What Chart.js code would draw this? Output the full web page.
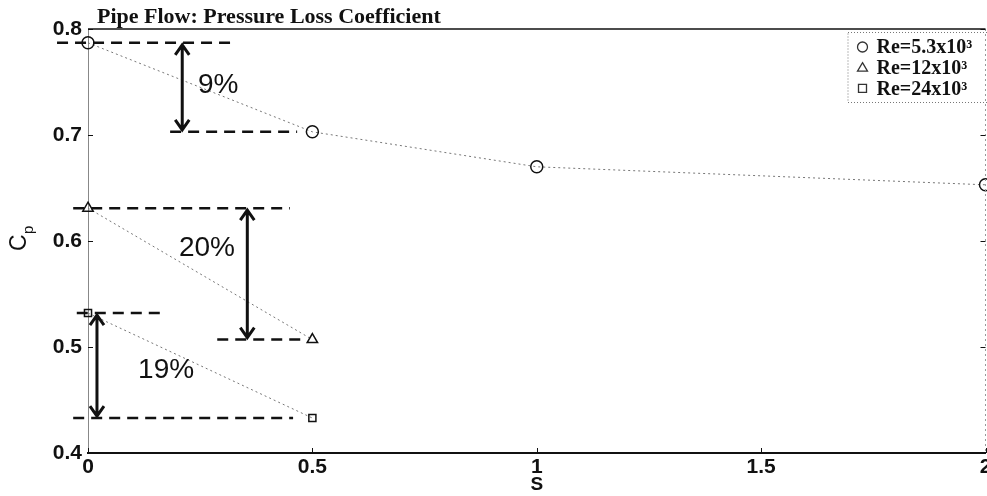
<!DOCTYPE html>
<html>
<head>
<meta charset="utf-8">
<script src="https://cdn.jsdelivr.net/npm/chart.js@4.4.1/dist/chart.umd.min.js"></script>
<style>
  html, body { margin: 0; padding: 0; background: #fff; overflow: hidden; }
  canvas { display: block; }
</style>
</head>
<body>
<!-- canvas is a little wider than the window so the plot runs to the right edge, like the cropped original -->
<canvas id="cpChart" width="993" height="496"></canvas>
<script>
// series data: S (x) and pressure loss coefficient Cp (y)
const sLong = [0, 0.5, 1, 2];
const sShort = [0, 0.5];
const cpRe53 = [0.787, 0.703, 0.670, 0.653];
const cpRe12 = [0.631, 0.507];
const cpRe24 = [0.532, 0.433];
const seriesLabels = ['Re=5.3x10³', 'Re=12x10³', 'Re=24x10³'];
const seriesMarkers = ['circle', 'triangle', 'rect'];
const xTicks = [0, 0.5, 1, 1.5, 2];
const yTicks = [0.4, 0.5, 0.6, 0.7, 0.8];

// percentage drop annotations, all in data units
const dropLabels = ['9%', '20%', '19%'];
const dropArrowS = [0.21, 0.355, 0.02];
const dropFrom = [0.787, 0.631, 0.532];
const dropTo = [0.703, 0.507, 0.433];
const topLineS = [[-0.069, 0.332], [-0.033, 0.45], [-0.025, 0.165]];
const bottomLineS = [[0.183, 0.466], [0.288, 0.477], [-0.033, 0.457]];
const labelS = [0.29, 0.265, 0.174];
const labelCp = [0.747, 0.593, 0.478];

const INK = '#111';
const SANS = '"Liberation Sans", Arial, sans-serif';
const SERIF = '"Liberation Serif", "Times New Roman", serif';

function drawMarker(ctx, style, cx, cy, r) {
    ctx.beginPath();
    if (style === 'circle') {
        ctx.arc(cx, cy, r, 0, Math.PI * 2);
    } else if (style === 'triangle') {
        ctx.moveTo(cx, cy - r);
        ctx.lineTo(cx + r, cy + r * 0.7);
        ctx.lineTo(cx - r, cy + r * 0.7);
        ctx.closePath();
    } else {
        ctx.rect(cx - r * 0.8, cy - r * 0.8, r * 1.6, r * 1.6);
    }
    ctx.stroke();
}

const annotatePlugin = {
    id: 'annotate',
    afterDatasetsDraw(chart) {
        const { ctx, chartArea: a, scales: { x, y } } = chart;
        ctx.save();

        // box: solid top, faint dotted right
        ctx.strokeStyle = INK;
        ctx.lineWidth = 1.5;
        ctx.beginPath();
        ctx.moveTo(a.left, a.top);
        ctx.lineTo(a.right, a.top);
        ctx.stroke();
        ctx.strokeStyle = '#999';
        ctx.lineWidth = 1;
        ctx.setLineDash([2, 3]);
        ctx.beginPath();
        ctx.moveTo(a.right, a.top);
        ctx.lineTo(a.right, a.bottom);
        ctx.stroke();
        ctx.setLineDash([]);

        // inward tick marks
        ctx.strokeStyle = INK;
        ctx.lineWidth = 1;
        xTicks.forEach(v => {
            const px = Math.round(x.getPixelForValue(v)) + 0.5;
            ctx.beginPath();
            ctx.moveTo(px, a.bottom);
            ctx.lineTo(px, a.bottom - 5);
            ctx.stroke();
        });
        yTicks.forEach(v => {
            const py = Math.round(y.getPixelForValue(v)) + 0.5;
            ctx.beginPath();
            ctx.moveTo(a.left, py);
            ctx.lineTo(a.left + 5, py);
            ctx.moveTo(a.right, py);
            ctx.lineTo(a.right - 5, py);
            ctx.stroke();
        });

        // x tick labels (drawn here so the last one may run off the edge)
        ctx.fillStyle = INK;
        ctx.font = 'bold 21px ' + SANS;
        ctx.textAlign = 'center';
        ctx.textBaseline = 'top';
        xTicks.forEach(v => {
            ctx.fillText(String(v), x.getPixelForValue(v), a.bottom + 4);
        });

        // dashed reference levels
        ctx.lineWidth = 2.5;
        ctx.setLineDash([11, 7]);
        dropLabels.forEach((lab, i) => {
            [[topLineS[i], dropFrom[i]], [bottomLineS[i], dropTo[i]]].forEach(([span, v]) => {
                const py = y.getPixelForValue(v);
                ctx.beginPath();
                ctx.moveTo(x.getPixelForValue(span[0]), py);
                ctx.lineTo(x.getPixelForValue(span[1]), py);
                ctx.stroke();
            });
        });
        ctx.setLineDash([]);

        // double arrows
        ctx.lineWidth = 3;
        dropLabels.forEach((lab, i) => {
            const px = x.getPixelForValue(dropArrowS[i]);
            const y1 = y.getPixelForValue(dropFrom[i]) + 2;
            const y2 = y.getPixelForValue(dropTo[i]) - 2;
            ctx.beginPath();
            ctx.moveTo(px, y1);
            ctx.lineTo(px, y2);
            ctx.moveTo(px - 7, y1 + 10);
            ctx.lineTo(px, y1);
            ctx.lineTo(px + 7, y1 + 10);
            ctx.moveTo(px - 7, y2 - 10);
            ctx.lineTo(px, y2);
            ctx.lineTo(px + 7, y2 - 10);
            ctx.stroke();
        });

        // percentage labels
        ctx.font = '28px ' + SANS;
        ctx.textBaseline = 'middle';
        dropLabels.forEach((lab, i) => {
            ctx.fillText(lab, x.getPixelForValue(labelS[i]), y.getPixelForValue(labelCp[i]));
        });

        // title
        ctx.font = 'bold 22px ' + SERIF;
        ctx.textAlign = 'left';
        ctx.textBaseline = 'alphabetic';
        ctx.fillText('Pipe Flow: Pressure Loss Coefficient', a.left + 9, a.top - 6);

        // y axis title C_p (rotated)
        ctx.save();
        ctx.translate(20, (a.top + a.bottom) / 2 + 2);
        ctx.rotate(-Math.PI / 2);
        ctx.textBaseline = 'middle';
        ctx.font = '23px ' + SANS;
        ctx.fillText('C', -8, 0);
        ctx.font = '15px ' + SANS;
        ctx.fillText('p', 9, 9);
        ctx.restore();

        // legend
        const lx = a.right - 138, ly = a.top + 3;
        ctx.strokeStyle = '#777';
        ctx.lineWidth = 1;
        ctx.setLineDash([1, 2]);
        ctx.strokeRect(lx + 0.5, ly + 0.5, 150, 70);
        ctx.setLineDash([]);
        ctx.font = 'bold 20px ' + SERIF;
        ctx.textBaseline = 'middle';
        seriesLabels.forEach((lab, i) => {
            const ry = ly + 15 + i * 20.7;
            ctx.strokeStyle = '#333';
            ctx.lineWidth = 1.3;
            drawMarker(ctx, seriesMarkers[i], lx + 15, ry, 5);
            ctx.fillText(lab, lx + 29, ry + 1);
        });

        ctx.restore();
    }
};

function seriesDataset(label, xs, ys, marker) {
    return {
        label: label,
        data: xs.map((s, i) => ({ x: s, y: ys[i] })),
        borderColor: '#777',
        borderWidth: 1,
        borderDash: [2, 3],
        pointStyle: marker,
        pointRadius: marker === 'rect' ? 5 : 6,
        pointBorderColor: INK,
        pointBorderWidth: 1.5,
        pointBackgroundColor: 'rgba(255,255,255,0)',
        fill: false,
        tension: 0,
        clip: 8
    };
}

new Chart(document.getElementById('cpChart'), {
    type: 'line',
    data: {
        datasets: [
            seriesDataset(seriesLabels[0], sLong, cpRe53, seriesMarkers[0]),
            seriesDataset(seriesLabels[1], sShort, cpRe12, seriesMarkers[1]),
            seriesDataset(seriesLabels[2], sShort, cpRe24, seriesMarkers[2])
        ]
    },
    options: {
        responsive: false,
        animation: false,
        layout: { padding: { top: 29, right: 2, left: 0, bottom: 0 } },
        plugins: {
            legend: { display: false },
            tooltip: { enabled: false },
            title: { display: false }
        },
        scales: {
            x: {
                type: 'linear',
                min: 0,
                max: 2,
                afterBuildTicks: scale => { scale.ticks = xTicks.map(v => ({ value: v })); },
                afterFit: scale => { scale.height = 43; },
                grid: { display: false, drawTicks: false },
                border: { display: true, color: INK, width: 2 },
                ticks: { display: false },
                title: {
                    display: true,
                    text: 'S',
                    color: INK,
                    padding: { top: 0, bottom: 0 },
                    font: { family: SANS, size: 19, weight: 'bold' }
                }
            },
            y: {
                min: 0.4,
                max: 0.8,
                afterBuildTicks: scale => { scale.ticks = yTicks.map(v => ({ value: v })); },
                afterFit: scale => { scale.width = 88; },
                grid: { display: false, drawTicks: false },
                border: { display: true, color: '#888', width: 1, dash: [2, 3] },
                ticks: {
                    color: INK,
                    padding: 6,
                    font: { family: SANS, size: 21, weight: 'bold' },
                    callback: v => v.toFixed(1)
                }
            }
        }
    },
    plugins: [annotatePlugin]
});
</script>
</body>
</html>
